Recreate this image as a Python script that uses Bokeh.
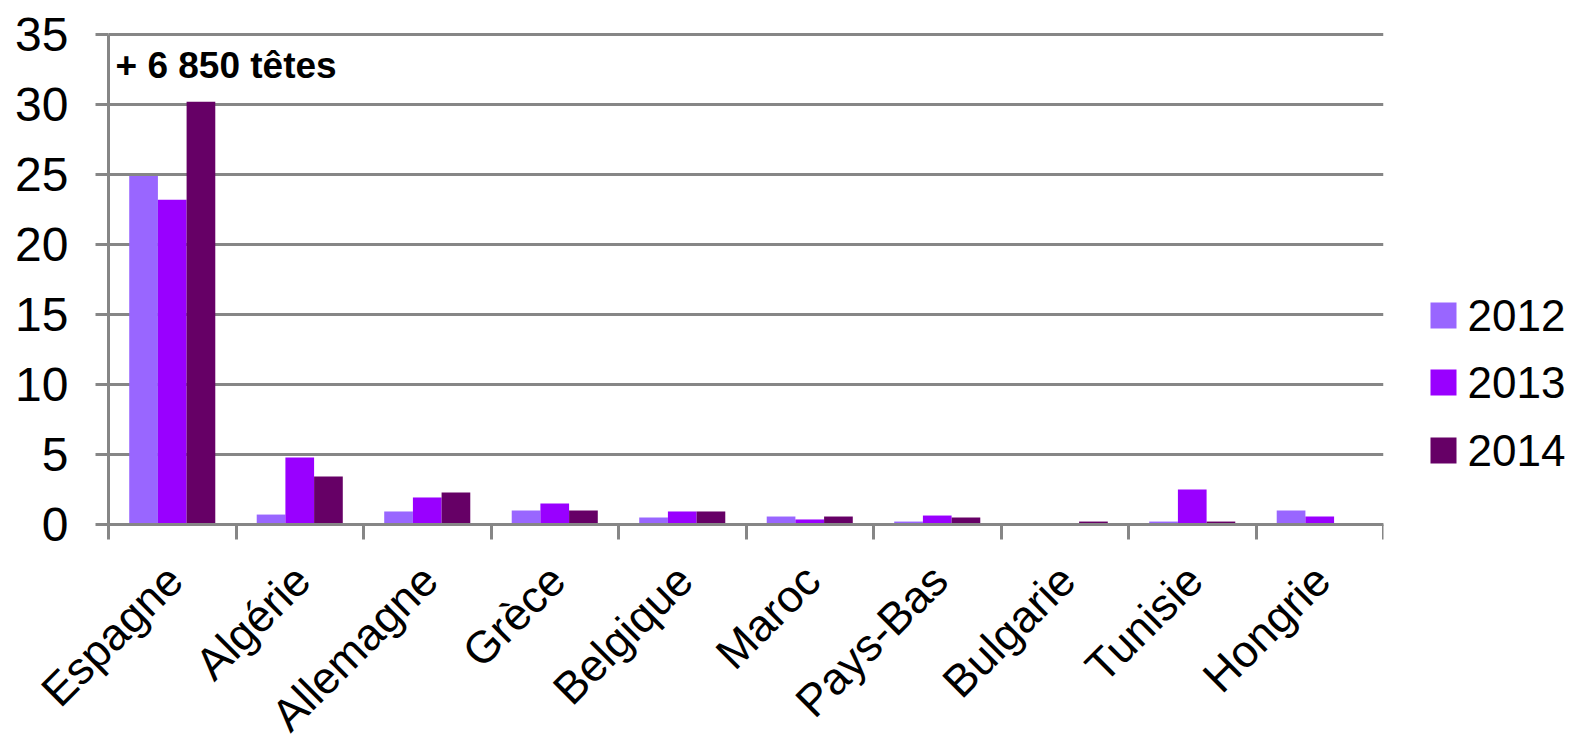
import math
from bokeh.plotting import figure
from bokeh.layouts import row
from bokeh.models import (ColumnDataSource, FixedTicker, Label, Range1d)
from bokeh.core.properties import value
from bokeh.embed import file_html
from bokeh.resources import INLINE

categories = ["Espagne", "Algérie", "Allemagne", "Grèce", "Belgique", "Maroc",
              "Pays-Bas", "Bulgarie", "Tunisie", "Hongrie"]
years = ["2012", "2013", "2014"]
v2012 = [24.9, 0.71, 0.93, 1.0, 0.5, 0.57, 0.21, 0.0, 0.21, 1.0]
v2013 = [23.2, 4.79, 1.93, 1.5, 0.93, 0.36, 0.64, 0.07, 2.5, 0.57]
v2014 = [30.2, 3.43, 2.29, 1.0, 0.93, 0.57, 0.5, 0.21, 0.21, 0.07]
y_ticks = [0, 5, 10, 15, 20, 25, 30, 35]
annotation = "+ 6 850 têtes"

colors = ["#9966FF", "#9900FF", "#660066"]
FONT = "Liberation Sans"
GRAY = "#868686"

H = 744
W = 1385
PY = 14.0           # pixels per y unit
PXU = 127.5         # pixels per category
LEFT = 108          # page x of category axis start
ZERO_Y = 524        # page y of value 0
ymax = ZERO_Y / PY
ymin = -(H - ZERO_Y) / PY
xmin = -LEFT / PXU
xmax = (W - 2 - LEFT) / PXU

p = figure(width=W, height=H, output_backend="svg", toolbar_location=None,
           x_range=Range1d(xmin, xmax), y_range=Range1d(ymin, ymax),
           min_border_left=0, min_border_right=2, min_border_top=0,
           min_border_bottom=0)
p.outline_line_color = None
p.background_fill_color = "white"

centers = [i + 0.5 for i in range(len(categories))]
bw = 0.225
offsets = [-bw, 0.0, bw]
for vals, off, col in zip([v2012, v2013, v2014], offsets, colors):
    src = ColumnDataSource(dict(x=[c + off for c in centers], top=vals))
    p.vbar(x="x", top="top", bottom=0, width=bw, source=src, fill_color=col,
           line_color=None)

# x axis placed at y = 0
xa = p.xaxis[0]
xa.fixed_location = 0
xa.bounds = (0, len(categories))
label_pos = [c + 0.02 for c in centers]
xa.ticker = FixedTicker(ticks=label_pos, minor_ticks=list(range(0, len(categories) + 1)))
xa.major_label_overrides = {c: name for c, name in zip(label_pos, categories)}
xa.major_label_orientation = math.pi / 4
xa.major_label_text_font = FONT
xa.major_label_text_font_size = "45px"
xa.major_label_text_color = "black"
xa.major_tick_out = 0
xa.major_tick_in = 0
xa.minor_tick_out = 15
xa.minor_tick_in = 0
xa.minor_tick_line_color = GRAY
xa.minor_tick_line_width = 3
xa.axis_line_color = GRAY
xa.axis_line_width = 3
xa.major_label_standoff = 33

# y axis placed at x = 0
ya = p.yaxis[0]
ya.fixed_location = 0
ya.ticker = FixedTicker(ticks=y_ticks)
ya.bounds = (0, 35)
ya.major_label_text_font = FONT
ya.major_label_text_font_size = "48px"
ya.major_label_text_color = "black"
ya.major_tick_out = 13
ya.major_tick_in = 0
ya.major_tick_line_color = GRAY
ya.major_tick_line_width = 3
ya.minor_tick_line_color = None
ya.axis_line_color = GRAY
ya.axis_line_width = 3
ya.major_label_standoff = 27

p.xgrid.grid_line_color = None
p.ygrid.grid_line_color = GRAY
p.ygrid.grid_line_width = 3
p.ygrid.cross_bounds = (0, len(categories))

p.add_layout(Label(x=0, y=35, x_offset=7, y_offset=-10, text=annotation,
                   text_font=FONT, text_font_size="37px", text_font_style="bold",
                   text_baseline="top", text_color="black"))

# legend panel (pixel-unit ranges)
LW = 190
pl = figure(width=LW, height=H, output_backend="svg", toolbar_location=None,
            x_range=Range1d(0, LW), y_range=Range1d(0, H),
            min_border_left=0, min_border_right=0, min_border_top=0,
            min_border_bottom=0, x_axis_type=None, y_axis_type=None)
pl.outline_line_color = None
pl.xgrid.visible = False
pl.ygrid.visible = False
leg_y = [H - 315, H - 382, H - 450]
pl.rect(x=[58] * 3, y=leg_y, width=26, height=26, fill_color=colors, line_color=None)
pl.text(x=[82] * 3, y=leg_y, text=years, text_font=value(FONT),
        text_font_size="44px", text_baseline="middle", text_align="left",
        text_color="black")

layout = row(p, pl, spacing=0)
open("out.html", "w").write(file_html(layout, INLINE))
